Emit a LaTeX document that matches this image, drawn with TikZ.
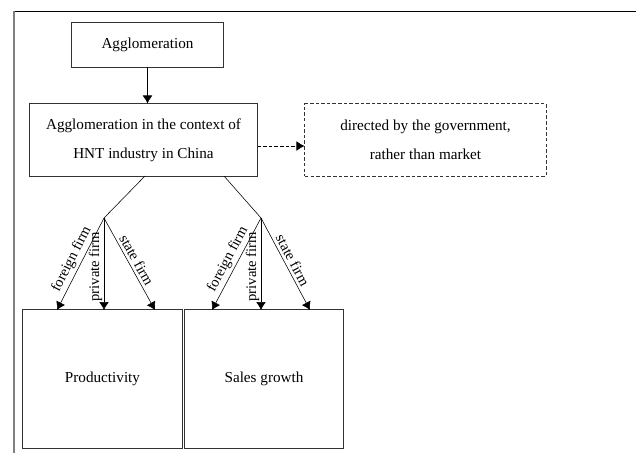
\documentclass[tikz,border=0pt]{standalone}
\usepackage{fontspec}
\setmainfont{Liberation Serif}
\usetikzlibrary{arrows.meta}

\begin{document}
\begin{tikzpicture}[x=0.025cm,y=-0.025cm]
  \tikzset{box/.style={draw=black!80,line width=0.7pt,align=center,inner sep=0pt,
                       font=\fontsize{10.8}{20.5}\selectfont},
           tip/.style={-{Latex[length=2mm,width=2.4mm]}},
           firm/.style={sloped,above,inner sep=2pt,font=\fontsize{10.4}{12}\selectfont},
           upfirm/.style={rotate=90,anchor=south,inner sep=1pt,font=\fontsize{10.4}{12}\selectfont}}
  \useasboundingbox (0,0) rectangle (636,453);
  % page frame
  \draw[line width=0.7pt] (13,11) -- (636,11);
  \draw[black!50,line width=1.5pt] (14,11) -- (14,453);

  \node[box,minimum width=3.775cm,minimum height=1.125cm] (Aggl) at (147.5,44.5) {Agglomeration};
  \node[box,minimum width=5.675cm,minimum height=1.8cm] (Ctx) at (143.5,140)
       {Agglomeration in the context of\\HNT industry in China};
  \node[box,dashed,dash pattern=on 2.5pt off 1.5pt,minimum width=6.025cm,minimum height=1.8cm] (Gov) at (425.5,140)
       {directed by the government,\\rather than market};
  \node[box,minimum width=3.975cm,minimum height=3.45cm] (Prod) at (102.5,379) {Productivity};
  \node[box,minimum width=3.95cm,minimum height=3.45cm] (Sales) at (264,379) {Sales growth};

  \draw[tip] (Aggl.south) -- (Aggl.south |- Ctx.north);
  \draw[tip,dashed,dash pattern=on 2.5pt off 1.5pt] ([yshift=-0.15cm]Ctx.east) -- ([yshift=-0.15cm]Gov.west);

  \coordinate (CtxL) at (145,176);
  \coordinate (CtxR) at (224,176);
  \coordinate (Fl) at (104,218);
  \coordinate (Fr) at (261,218);
  \draw (CtxL) -- (Fl);
  \draw (CtxR) -- (Fr);

  \coordinate (ProdF) at (57,310);
  \coordinate (ProdP) at (104,310);
  \coordinate (ProdS) at (155,310);
  \coordinate (SalesF) at (212,310);
  \coordinate (SalesP) at (261,310);
  \coordinate (SalesS) at (310,310);

  \draw[tip] (Fl) -- node[firm] {foreign firm} (ProdF);
  \draw[tip] (Fl) -- node[upfirm,pos=0.53] {private firm} (ProdP);
  \draw[tip] (Fl) -- node[firm] {state firm} (ProdS);
  \draw[tip] (Fr) -- node[firm] {foreign firm} (SalesF);
  \draw[tip] (Fr) -- node[upfirm,pos=0.53] {private firm} (SalesP);
  \draw[tip] (Fr) -- node[firm] {state firm} (SalesS);
\end{tikzpicture}
\end{document}
